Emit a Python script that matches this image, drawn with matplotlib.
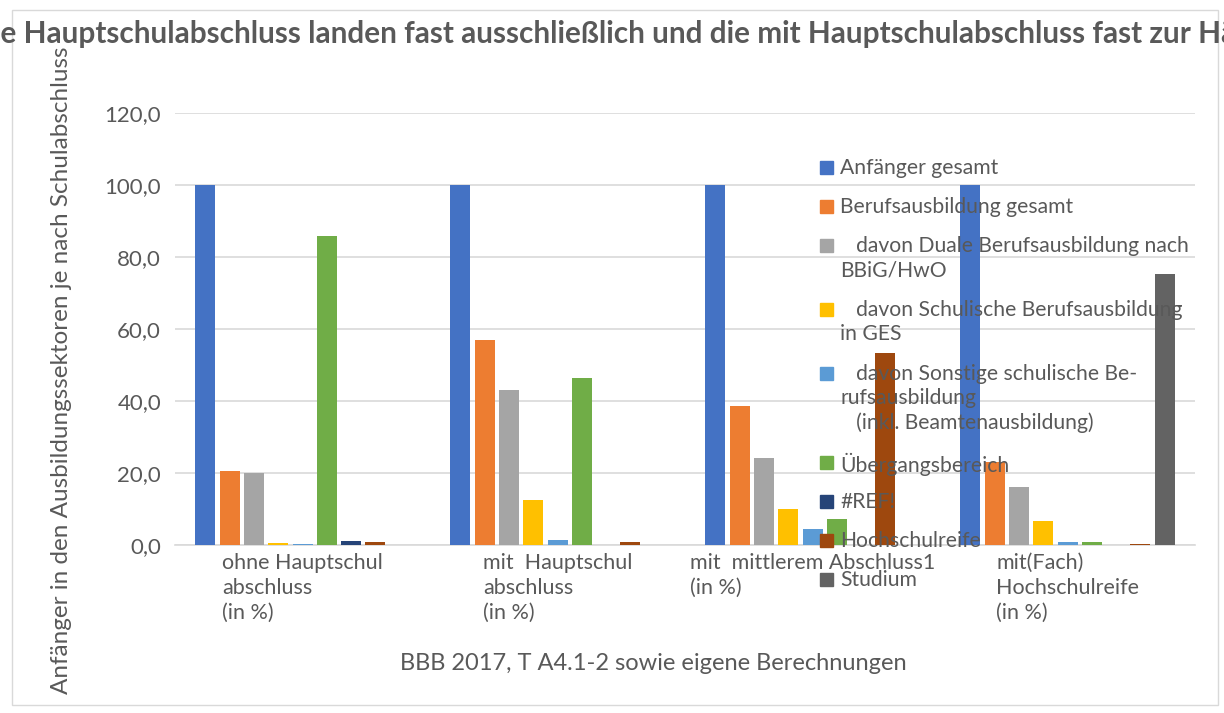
import matplotlib.pyplot as plt
import matplotlib.patches as mpatches
import numpy as np

plt.rcParams['font.family'] = ['Lato', 'DejaVu Sans']

categories = ["ohne Hauptschul\nabschluss\n(in %)",
              "mit  Hauptschul\nabschluss\n(in %)",
              "mit  mittlerem Abschluss1\n(in %)",
              "mit(Fach)\nHochschulreife\n(in %)"]

series_names = ["Anfänger gesamt",
                "Berufsausbildung gesamt",
                "   davon Duale Berufsausbildung nach\nBBiG/HwO",
                "   davon Schulische Berufsausbildung\nin GES",
                "   davon Sonstige schulische Be-\nrufsausbildung\n   (inkl. Beamtenausbildung)",
                "Übergangsbereich",
                "#REF!",
                "Hochschulreife",
                "Studium"]

anfaenger = [100.0, 100.0, 100.0, 100.0]
berufsausbildung = [20.6, 56.9, 38.6, 23.0]
duale = [20.0, 43.1, 24.3, 16.1]
schulische = [0.5, 12.5, 10.0, 6.7]
sonstige = [0.2, 1.3, 4.4, 0.8]
uebergang = [85.9, 46.4, 7.2, 0.8]
ref = [1.1, 0.0, 0.0, 0.0]
hochschulreife = [0.8, 0.8, 53.3, 0.3]
studium = [0.0, 0.0, 0.0, 75.3]

values = [anfaenger, berufsausbildung, duale, schulische, sonstige,
          uebergang, ref, hochschulreife, studium]
colors = ['#4472C4', '#ED7D31', '#A5A5A5', '#FFC000', '#5B9BD5',
          '#70AD47', '#264478', '#9E480E', '#636363']

title = ("Anfänger ohne Hauptschulabschluss landen fast ausschließlich und die mit "
         "Hauptschulabschluss fast zur Hälfte im Übergangsbereich")

txt = '#595959'
W, H = 1224, 713
fig = plt.figure(figsize=(W / 100, H / 100), dpi=100)
ax = fig.add_axes([175 / W, 1 - 545 / H, 1020 / W, (545 - 113) / H])

x = np.arange(len(categories))
pitch = 24.3 / 255
width = 20 / 255
for j, (vals, c) in enumerate(zip(values, colors)):
    ax.bar(x + (j - 4) * pitch, vals, width=width, color=c, zorder=3)

ax.set_xlim(-0.5, 3.5)
ax.set_ylim(0, 120)
ax.set_yticks(np.arange(0, 121, 20))
ax.set_yticklabels([f"{v:.1f}".replace('.', ',') for v in np.arange(0, 121, 20)])
ax.grid(axis='y', color='#d9d9d9', linewidth=1.2, zorder=0)
for s in ['top', 'right', 'left']:
    ax.spines[s].set_visible(False)
ax.spines['bottom'].set_color('#d9d9d9')
ax.spines['bottom'].set_linewidth(1.2)
ax.tick_params(axis='both', length=0, colors=txt)
ax.tick_params(axis='y', pad=10, labelsize=16)
ax.set_xticks(x)
ax.set_xticklabels(categories, multialignment='left', ha='center', va='top',
                   fontsize=15.5, linespacing=1.3)
ax.tick_params(axis='x', pad=6)

# legend, drawn by hand so the square sits on the first line
y = 167
for name, c in zip(series_names, colors):
    fig.patches.append(mpatches.Rectangle((820 / W, 1 - (y + 7) / H), 13 / W, 13 / H,
                                          transform=fig.transFigure, color=c, zorder=5))
    fig.text(840 / W, 1 - (y - 9) / H, name, ha='left', va='top', fontsize=15.2,
             color=txt, linespacing=1.27, zorder=6)
    y += 39 + 25 * name.count('\n')

# title runs past both edges; shift it so "…e Hauptschulabschluss" starts at the left edge
renderer = fig.canvas.get_renderer()
probe = fig.text(0, 0, "Anfänger ohn", fontsize=21.4, fontweight='bold')
shift = probe.get_window_extent(renderer).width
probe.remove()
fig.text((-shift + 1) / W, 1 - 32 / H, title,
         ha='left', va='center', fontsize=21.4, fontweight='bold', color=txt)
fig.text(62 / W, 1 - 370 / H, "Anfänger in den Ausbildungssektoren je nach Schulabschluss",
         rotation=90, ha='center', va='center', fontsize=17.5, color=txt)
fig.text(653 / W, 1 - 664 / H, "BBB 2017, T A4.1-2 sowie eigene Berechnungen",
         ha='center', va='center', fontsize=17, color=txt)

fig.patches.append(mpatches.Rectangle((12 / W, 1 - 705 / H), 1206 / W, 695 / H,
                                      transform=fig.transFigure, fill=False,
                                      edgecolor='#d9d9d9', linewidth=1))

fig.savefig('out.png', dpi=100)
